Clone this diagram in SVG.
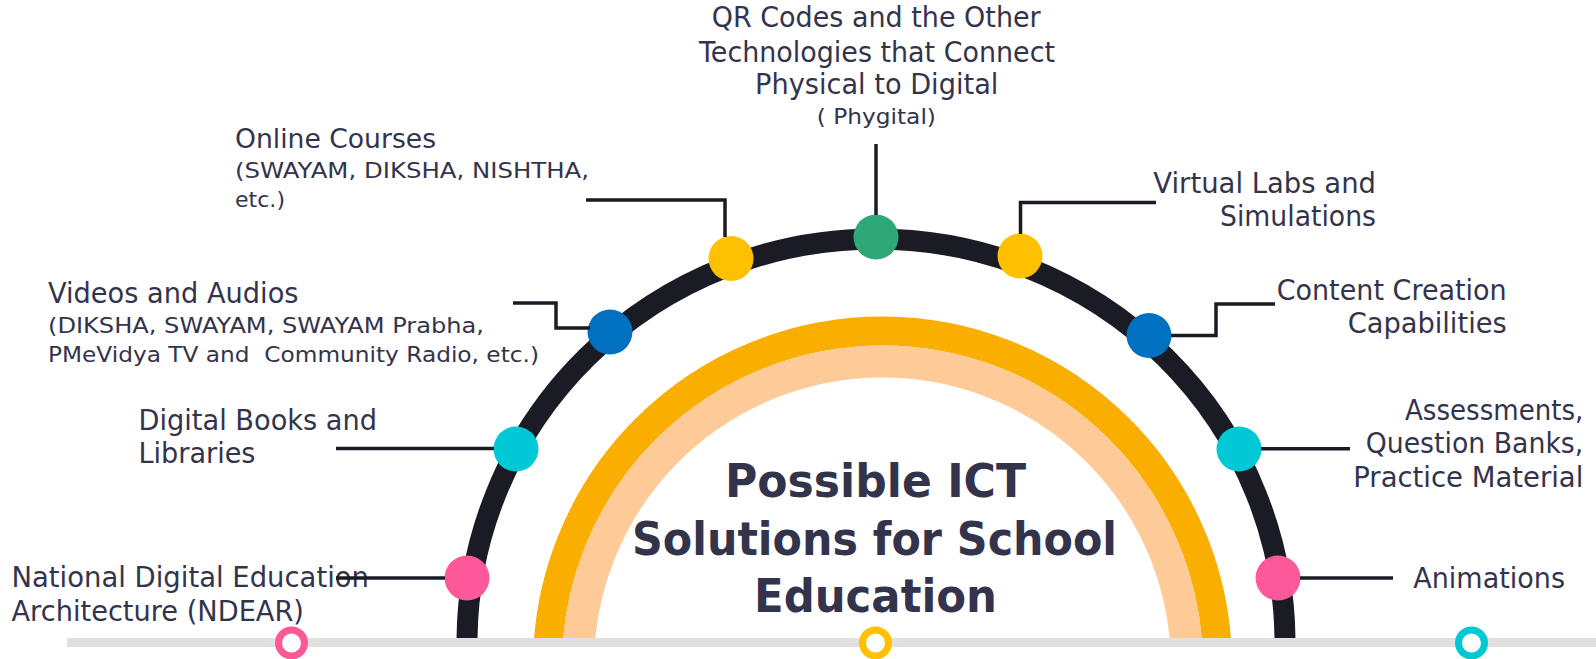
<svg xmlns="http://www.w3.org/2000/svg" width="1596" height="659" viewBox="0 0 1596 659">
<style>
.lbl{font-family:"DejaVu Sans",sans-serif;font-size:27.5px;fill:#33344b}
.sub{font-family:"DejaVu Sans",sans-serif;font-size:21.5px;fill:#33344b}
.ttl{font-family:"DejaVu Sans",sans-serif;font-size:47px;font-weight:bold;fill:#33344b;text-anchor:middle}
.r{text-anchor:end}
.m{text-anchor:middle}
.con{fill:none;stroke:#1b1b26;stroke-width:3.5}
.ring{fill:#fff;stroke-width:7}
</style>
<defs>
<clipPath id="above"><rect x="0" y="0" width="1596" height="638"/></clipPath>
</defs>
<rect width="1596" height="659" fill="#fff"/>
<g id="arcs" clip-path="url(#above)" fill="none">
<path d="M 547.5 666 A 335 335 0 0 1 1217.5 666" stroke="#f9ae00" stroke-width="29"/>
<path d="M 578 666 A 304.5 304.5 0 0 1 1187 666" stroke="#fecb98" stroke-width="32"/>
<path d="M 467 643 A 409 404 0 0 1 1285 643" stroke="#1b1b26" stroke-width="21"/>
</g>
<g id="baseline">
<line x1="67" y1="642.5" x2="1596" y2="642.5" stroke="#e1e0de" stroke-width="9"/>
<circle class="ring" cx="291.5" cy="643" r="13" stroke="#fd5897"/>
<circle class="ring" cx="875.5" cy="643" r="13" stroke="#ffc000"/>
<circle class="ring" cx="1471.5" cy="643" r="13" stroke="#00c8d4"/>
</g>
<g id="title">
<text class="ttl" x="875.5" y="496.5" textLength="301" lengthAdjust="spacingAndGlyphs">Possible ICT</text>
<text class="ttl" x="874.5" y="555" textLength="485" lengthAdjust="spacingAndGlyphs">Solutions for School</text>
<text class="ttl" x="875.5" y="611.5" textLength="243" lengthAdjust="spacingAndGlyphs">Education</text>
</g>
<g id="node-ndear">
<circle cx="467" cy="578" r="22.5" fill="#fd5897"/>
<text class="lbl" x="11.5" y="586.5" textLength="357.5" lengthAdjust="spacingAndGlyphs">National Digital Education</text>
<text class="lbl" x="11.5" y="620.5" textLength="292.5" lengthAdjust="spacingAndGlyphs">Architecture (NDEAR)</text>
</g>
<g id="node-books">
<circle cx="516" cy="449" r="22.5" fill="#00c8d4"/>
<text class="lbl" x="138.5" y="430" textLength="238.5" lengthAdjust="spacingAndGlyphs">Digital Books and</text>
<text class="lbl" x="138.5" y="463" textLength="117" lengthAdjust="spacingAndGlyphs">Libraries</text>
</g>
<g id="node-videos">
<circle cx="610" cy="332" r="22.5" fill="#0070c0"/>
<text class="lbl" x="48" y="303.3" textLength="250.5" lengthAdjust="spacingAndGlyphs">Videos and Audios</text>
<text class="sub" x="48" y="332.7" textLength="436" lengthAdjust="spacingAndGlyphs">(DIKSHA, SWAYAM, SWAYAM Prabha,</text>
<text class="sub" x="48" y="362.3" textLength="491" lengthAdjust="spacingAndGlyphs" xml:space="preserve">PMeVidya TV and  Community Radio, etc.)</text>
</g>
<g id="node-online">
<circle cx="731" cy="258.5" r="22.5" fill="#ffc000"/>
<text class="lbl" x="235" y="148.3" textLength="201" lengthAdjust="spacingAndGlyphs" style="font-size:26px">Online Courses</text>
<text class="sub" x="235" y="178.3" textLength="354" lengthAdjust="spacingAndGlyphs">(SWAYAM, DIKSHA, NISHTHA,</text>
<text class="sub" x="235" y="207.3" textLength="50" lengthAdjust="spacingAndGlyphs">etc.)</text>
</g>
<g id="node-qr">
<circle cx="876" cy="237" r="22.5" fill="#2fa878"/>
<text class="lbl m" x="876.2" y="27.3" textLength="329" lengthAdjust="spacingAndGlyphs">QR Codes and the Other</text>
<text class="lbl m" x="877" y="61.7" textLength="356" lengthAdjust="spacingAndGlyphs">Technologies that Connect</text>
<text class="lbl m" x="876.7" y="94.3" textLength="243.3" lengthAdjust="spacingAndGlyphs">Physical to Digital</text>
<text class="sub m" x="876.3" y="124" textLength="119.3" lengthAdjust="spacingAndGlyphs">( Phygital)</text>
</g>
<g id="node-virtual">
<circle cx="1020" cy="256" r="22.5" fill="#ffc000"/>
<text class="lbl r" x="1376" y="193.3" textLength="222.7" lengthAdjust="spacingAndGlyphs">Virtual Labs and</text>
<text class="lbl r" x="1376" y="225.7" textLength="156" lengthAdjust="spacingAndGlyphs">Simulations</text>
</g>
<g id="node-content">
<circle cx="1149" cy="335.5" r="22.5" fill="#0070c0"/>
<text class="lbl r" x="1506.7" y="300" textLength="230" lengthAdjust="spacingAndGlyphs">Content Creation</text>
<text class="lbl r" x="1506.7" y="333.3" textLength="159" lengthAdjust="spacingAndGlyphs">Capabilities</text>
</g>
<g id="node-assess">
<circle cx="1239" cy="449" r="22.5" fill="#00c8d4"/>
<text class="lbl r" x="1583.3" y="420" textLength="178.3" lengthAdjust="spacingAndGlyphs">Assessments,</text>
<text class="lbl r" x="1583.3" y="453.3" textLength="217.6" lengthAdjust="spacingAndGlyphs">Question Banks,</text>
<text class="lbl r" x="1583.3" y="486.7" textLength="230" lengthAdjust="spacingAndGlyphs">Practice Material</text>
</g>
<g id="node-anim">
<circle cx="1278" cy="578" r="22.5" fill="#fd5897"/>
<text class="lbl r" x="1565" y="587.7" textLength="151.7" lengthAdjust="spacingAndGlyphs">Animations</text>
</g>
<g id="connectors">
<path class="con" d="M336 578 H445"/>
<path class="con" d="M336 448.5 H494"/>
<path class="con" d="M513 303 H556 V328 H590"/>
<path class="con" d="M586 200 H725 V237"/>
<path class="con" d="M876 144 V215"/>
<path class="con" d="M1156 202.5 H1020.5 V234"/>
<path class="con" d="M1275 304 H1216 V335.5 H1171"/>
<path class="con" d="M1261 448.7 H1350"/>
<path class="con" d="M1300 578 H1393"/>
</g>
</svg>
